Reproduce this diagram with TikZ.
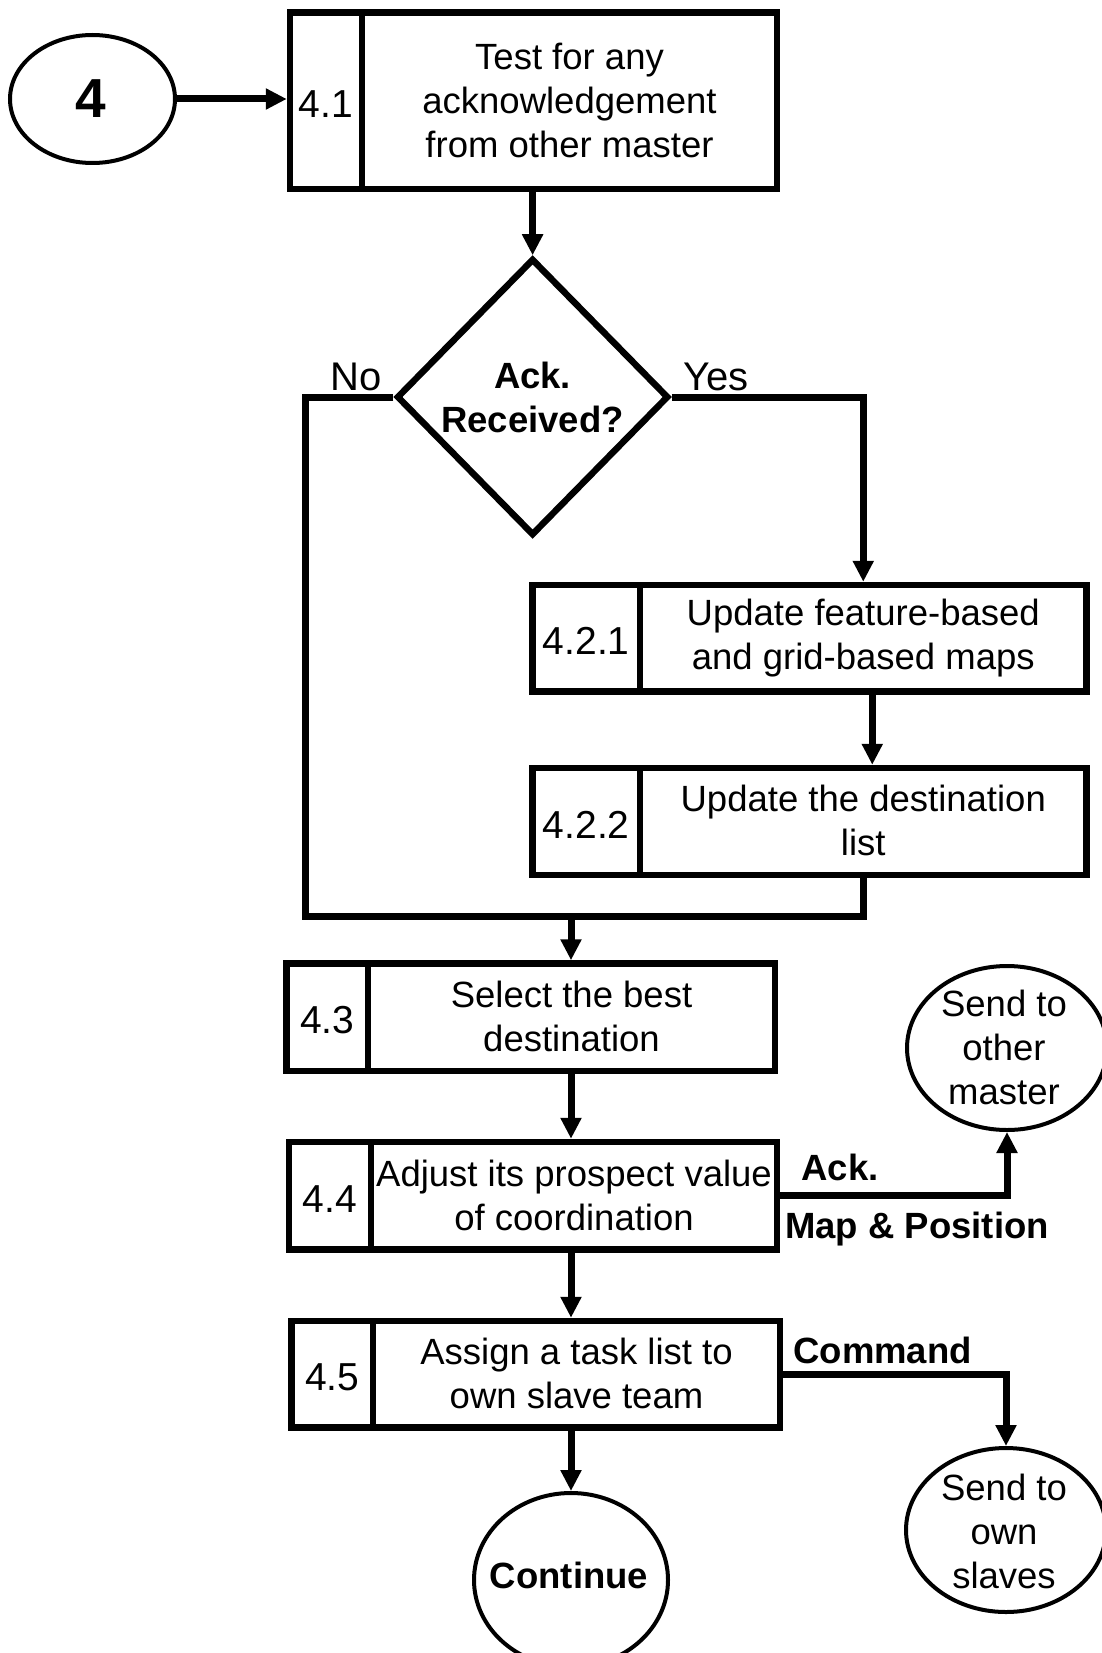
\documentclass[tikz,border=0pt]{standalone}
\usepackage{fontspec}
\setmainfont{Liberation Sans}
\usetikzlibrary{arrows.meta,shapes.geometric,calc}

% strut that fixes first-line height and last-line depth of multi-line texts
\newcommand\flstrut{\rule[-1.5pt]{0pt}{47.5pt}}

\begin{document}
\begin{tikzpicture}[x=1pt, y=-1pt,
  every node/.style={inner sep=0pt},
  body/.style={font=\fontsize{36.5}{44}\selectfont},
  bodybf/.style={font=\fontsize{36.5}{44}\selectfont\bfseries},
  txt/.style={align=center, execute at begin node=\flstrut, execute at end node=\flstrut},
  cell/.style={draw, rectangle, line width=6.5pt},
  numcell/.style={cell, font=\fontsize{39}{44}\selectfont, text height=33pt, text depth=0pt},
  proccell/.style={cell, body, txt},
  term/.style={draw, ellipse, line width=4pt},
  conn/.style={line width=7pt},
  arr/.style={conn, -{Triangle[length=21pt,width=20pt]}},
  branch/.style={font=\fontsize{40}{40}\selectfont, anchor=base},
  flowlbl/.style={bodybf, anchor=base},
]
\fill[white] (0,0) rectangle (1102,1653);
\useasboundingbox (0,0) rectangle (1102,1653);
\clip (0,0) rectangle (1102,1653);

% entry terminal
\node[term, minimum width=165pt, minimum height=128pt] (E4) at (92.5,99) {};
\node[font=\fontsize{55}{55}\selectfont\bfseries] (E4t) at (91,98.3) {4};

% 4.1
\node[numcell, minimum width=72pt, minimum height=176.5pt] (N41) at (326,100.75) {4.1};
\node[proccell, minimum width=415pt, minimum height=176.5pt] (M41) at (569.5,100.75)
  {Test for any\\acknowledgement\\from other master};

% decision
\node[draw, diamond, line width=6.5pt, minimum width=272pt, minimum height=277pt] (D) at (532.6,397) {};
\node[bodybf, txt] (Dt) at (532.6,398) {Ack.\\Received?};

% 4.2.1 and 4.2.2
\node[numcell, minimum width=107.5pt, minimum height=106.5pt] (N421) at (586.25,638.25) {4.2.1};
\node[proccell, minimum width=446.5pt, minimum height=106.5pt] (M421) at (863.25,638.25)
  {Update feature-based\\and grid-based maps};
\node[numcell, minimum width=107.5pt, minimum height=107pt] (N422) at (586.25,821.5) {4.2.2};
\node[proccell, minimum width=446.5pt, minimum height=107pt] (M422) at (863.25,821.5)
  {Update the destination\\list};

% 4.3, 4.4, 4.5
\node[numcell, minimum width=81.5pt, minimum height=107.5pt] (N43) at (327.25,1017.25) {4.3};
\node[proccell, minimum width=407pt, minimum height=107.5pt] (M43) at (571.5,1017.25)
  {Select the best\\destination};
\node[numcell, minimum width=82pt, minimum height=107.5pt] (N44) at (330,1195.75) {4.4};
\node[proccell, minimum width=406pt, minimum height=107.5pt] (M44) at (574,1195.75)
  {Adjust its prospect value\\of coordination};
\node[numcell, minimum width=81.4pt, minimum height=106.5pt] (N45) at (332.3,1374.25) {4.5};
\node[proccell, minimum width=407pt, minimum height=106.5pt] (M45) at (576.5,1374.25)
  {Assign a task list to\\own slave team};

% terminals
\node[term, minimum width=200pt, minimum height=164pt] (SOM) at (1007,1048) {};
\node[body, txt] (SOMt) at (1004,1048.5) {Send to\\other\\master};
\node[term, minimum width=200pt, minimum height=164pt] (SOS) at (1006,1530) {};
\node[body, txt] (SOSt) at (1004,1532.5) {Send to\\own\\slaves};
\node[term, minimum width=194pt, minimum height=174pt] (Cont) at (571,1580) {};
\node[bodybf] (Contt) at (569,1575) {Continue};

% branch labels
\node[branch] (lblNo) at (356.5,390) {No};
\node[branch] (lblYes) at (716,390) {Yes};
\node[flowlbl] (lblAck) at (840,1180) {Ack.};
\node[flowlbl] (lblMap) at (917,1238) {Map \& Position};
\node[flowlbl] (lblCmd) at (882.6,1363) {Command};

% connectors
\coordinate (noBot) at (305,916);
\coordinate (merge) at (571,916);
\draw[arr] (E4.east) -- (E4.east -| N41.west);
\draw[arr] (D.north |- M41.south) -- (D.north);
\draw[conn] (D.west) -| (noBot) -| (M422.south);
\draw[arr] (D.east) -| (M421.north);
\draw[arr] ([xshift=9pt]M421.south) -- ([xshift=9pt]M422.north);
\draw[arr] (merge) -- (merge |- M43.north);
\draw[arr] (merge |- M43.south) -- (merge |- M44.north);
\draw[arr] (merge |- M44.south) -- (merge |- M45.north);
\draw[arr] (Cont.north |- M45.south) -- (Cont.north);
\draw[arr] (M44.east) -| (SOM.south);
\draw[arr] (M45.east) -| (SOS.north);
\end{tikzpicture}
\end{document}
